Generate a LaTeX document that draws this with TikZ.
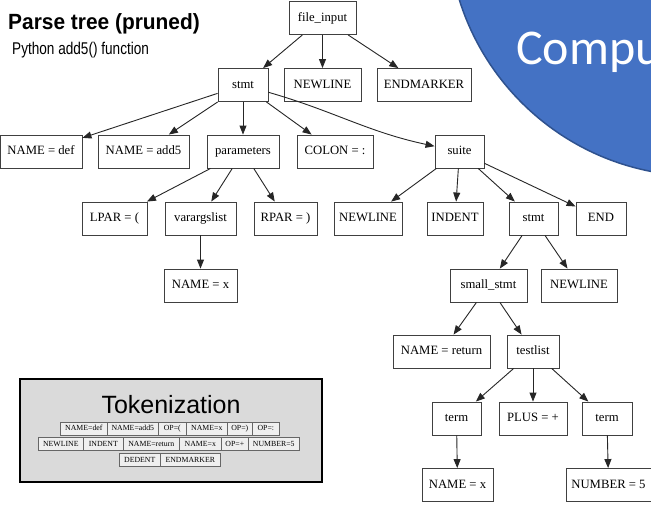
\documentclass[tikz,border=0pt]{standalone}
\usepackage{fontspec}
\setmainfont{Liberation Serif}
\newfontfamily\headfont{Liberation Sans}
\newfontfamily\compfont{Carlito}
\usetikzlibrary{arrows.meta}
\definecolor{blueC}{HTML}{4472C4}
\definecolor{blueD}{HTML}{2F528F}
\definecolor{tokbg}{HTML}{DADADA}
\definecolor{tokcell}{HTML}{EFEFEF}
\begin{document}
\begin{tikzpicture}[x=1pt,y=-1pt,
  tnode/.style={draw=black!75, line width=0.9pt, minimum height=33pt, inner sep=0pt,
    font=\fontsize{12.7}{14}\selectfont, text height=8.8pt, text depth=2.6pt, fill=white},
  edge/.style={draw=black!85, line width=0.9pt, -{Triangle[length=9pt,width=7pt]}},
  tok/.style={draw=black!60, line width=0.6pt, fill=tokcell, minimum height=13pt, inner sep=0pt,
    anchor=west, font=\fontsize{7.8}{9}\selectfont, text height=5.5pt, text depth=1.5pt},
  titletext/.style={anchor=base west, inner sep=0pt}
]
\useasboundingbox (0,0) rectangle (651,504);
\fill[white] (0,0) rectangle (651,504);

% blue circle (top right)
\draw[fill=blueC, draw=blueD, line width=1.5pt] (699,-75) circle[radius=251pt];
\node[titletext, text=white, font=\compfont\fontsize{50}{56}\selectfont] (comp) at (516,64) {Compu};

% titles
\node[titletext, font=\headfont\bfseries\fontsize{22}{26}\selectfont] (title) at (8,29)
  {\scalebox{0.95}[1]{Parse tree (pruned)}};
\node[titletext, font=\headfont\fontsize{17}{20}\selectfont] (subtitle) at (12,54)
  {\scalebox{0.8}[1]{Python add5() function}};

% tree nodes
\node[tnode, minimum width=67pt] (fi) at (322.5,18) {file\_input};
\node[tnode, minimum width=50pt] (stmt) at (243,85) {stmt};
\node[tnode, minimum width=77pt] (nl1) at (322.5,85) {NEWLINE};
\node[tnode, minimum width=94pt] (em) at (424,85) {ENDMARKER};

\node[tnode, minimum width=82pt] (def) at (41,151.5) {NAME = def};
\node[tnode, minimum width=91pt] (add5) at (143.5,151.5) {NAME = add5};
\node[tnode, minimum width=72pt] (params) at (243,151.5) {parameters};
\node[tnode, minimum width=76pt] (colon) at (335,151.5) {COLON = :};
\node[tnode, minimum width=49pt] (suite) at (459.5,151.5) {suite};

\node[tnode, minimum width=65pt] (lpar) at (114.5,218.5) {LPAR = (};
\node[tnode, minimum width=71pt] (vargs) at (200.5,218.5) {varargslist};
\node[tnode, minimum width=63pt] (rpar) at (285.5,218.5) {RPAR = )};
\node[tnode, minimum width=68pt] (nl2) at (368,218.5) {NEWLINE};
\node[tnode, minimum width=56pt] (indent) at (455,218.5) {INDENT};
\node[tnode, minimum width=49pt] (stmt2) at (533.5,218.5) {stmt};
\node[tnode, minimum width=50pt] (end) at (601,218.5) {END};

\node[tnode, minimum width=73pt] (namex) at (200.5,285.5) {NAME = x};
\node[tnode, minimum width=77pt] (small) at (488.5,285.5) {small\_stmt};
\node[tnode, minimum width=76pt] (nl3) at (579,285.5) {NEWLINE};

\node[tnode, minimum width=97pt] (ret) at (441.5,351.5) {NAME = return};
\node[tnode, minimum width=52pt] (testlist) at (533,351.5) {testlist};

\node[tnode, minimum width=49pt] (term1) at (456.5,418.5) {term};
\node[tnode, minimum width=68pt] (plus) at (533,418.5) {PLUS = +};
\node[tnode, minimum width=50pt] (term2) at (607,418.5) {term};

\node[tnode, minimum width=71pt] (namex2) at (457.5,485) {NAME = x};
\node[tnode, minimum width=85pt] (num5) at (608.5,485) {NUMBER = 5};

% edges
\draw[edge] (fi) -- (stmt);
\draw[edge] (fi) -- (nl1);
\draw[edge] (fi) -- (em);
\draw[edge] (stmt) -- (def);
\draw[edge] (stmt) -- (add5);
\draw[edge] (stmt) -- (params);
\draw[edge] (stmt) -- (colon);
\draw[edge] (stmt) to[out=-16,in=168] (suite);
\draw[edge] (params) -- (lpar);
\draw[edge] (params) -- (vargs);
\draw[edge] (params) -- (rpar);
\draw[edge] (vargs) -- (namex);
\draw[edge] (suite) -- (nl2);
\draw[edge] (suite) -- (indent);
\draw[edge] (suite) -- (stmt2);
\draw[edge] (suite) -- (end);
\draw[edge] (stmt2) -- (small);
\draw[edge] (stmt2) -- (nl3);
\draw[edge] (small) -- (ret);
\draw[edge] (small) -- (testlist);
\draw[edge] (testlist) -- (term1);
\draw[edge] (testlist) -- (plus);
\draw[edge] (testlist) -- (term2);
\draw[edge] (term1) -- (namex2);
\draw[edge] (term2) -- (num5);

% tokenization box
\node[draw=black, line width=1.6pt, fill=tokbg, minimum width=302pt, minimum height=103pt, inner sep=0pt]
  (tokbox) at (171,430.5) {};
\node[anchor=base, inner sep=0pt, font=\headfont\fontsize{25}{30}\selectfont] (toktitle) at (171,413) {Tokenization};

\node[tok, minimum width=47pt] (t1a) at (60,428.5) {NAME=def};
\node[tok, minimum width=51pt] (t1b) at (107,428.5) {NAME=add5};
\node[tok, minimum width=28pt] (t1c) at (158,428.5) {OP=(};
\node[tok, minimum width=41pt] (t1d) at (186,428.5) {NAME=x};
\node[tok, minimum width=25pt] (t1e) at (227,428.5) {OP=)};
\node[tok, minimum width=27pt] (t1f) at (252,428.5) {OP=:};

\node[tok, minimum width=45pt] (t2a) at (38,444) {NEWLINE};
\node[tok, minimum width=40pt] (t2b) at (83,444) {INDENT};
\node[tok, minimum width=56pt] (t2c) at (123,444) {NAME=return};
\node[tok, minimum width=42pt] (t2d) at (179,444) {NAME=x};
\node[tok, minimum width=27pt] (t2e) at (221,444) {OP=+};
\node[tok, minimum width=51pt] (t2f) at (248,444) {NUMBER=5};

\node[tok, minimum width=41pt] (t3a) at (119,460) {DEDENT};
\node[tok, minimum width=60pt] (t3b) at (160,460) {ENDMARKER};
\end{tikzpicture}
\end{document}
